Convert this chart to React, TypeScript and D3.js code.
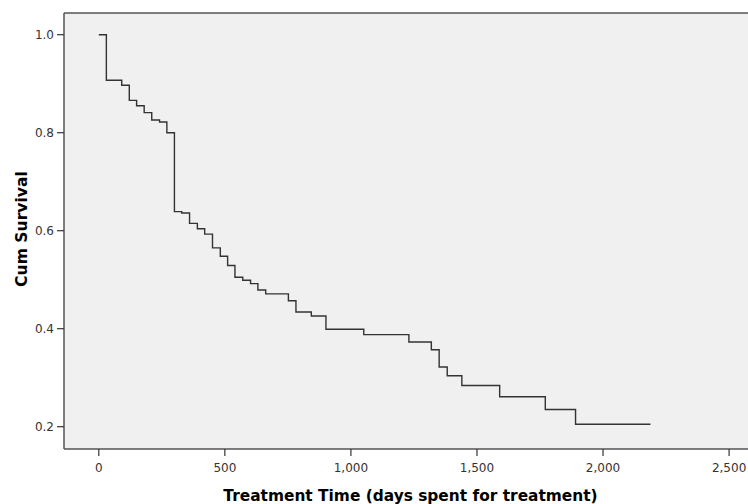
import React from "react";
import * as d3 from "d3";

// Kaplan-Meier step points (day of event, survival after event)
const eventDays = [0, 30, 91, 121, 150, 180, 210, 241, 270, 300, 329, 360, 391, 420, 451, 482, 511, 540, 571, 602, 631, 662, 752, 782, 843, 901, 1051, 1230, 1319, 1350, 1382, 1440, 1590, 1771, 1891, 2188];
const survival = [1.0, 0.907, 0.897, 0.866, 0.855, 0.841, 0.826, 0.822, 0.8, 0.639, 0.636, 0.615, 0.604, 0.593, 0.565, 0.548, 0.529, 0.505, 0.499, 0.492, 0.479, 0.471, 0.457, 0.434, 0.426, 0.399, 0.388, 0.373, 0.357, 0.322, 0.304, 0.284, 0.261, 0.235, 0.205, 0.205];

const xTicks = [0, 500, 1000, 1500, 2000, 2500];
const yTicks = [0.2, 0.4, 0.6, 0.8, 1.0];

const xTitle = "Treatment Time (days spent for treatment)";
const yTitle = "Cum Survival";

export default function App() {
  const width = 748;
  const height = 504;
  const margin = { top: 13, right: 0, bottom: 55, left: 64 };

  const x = d3.scaleLinear().domain([-138, 2575]).range([margin.left, width - margin.right]);
  const y = d3.scaleLinear().domain([0.1545, 1.0443]).range([height - margin.bottom, margin.top]);

  const pts = eventDays.map((d, i) => [d, survival[i]] as [number, number]);
  const path = d3
    .line<[number, number]>()
    .x((d) => x(d[0]))
    .y((d) => y(d[1]))
    .curve(d3.curveStepAfter)(pts);

  const fmt = d3.format(",");
  const bottom = height - margin.bottom;
  const font = "'DejaVu Sans', Verdana, sans-serif";

  return (
    <svg
      width={width}
      height={height}
      style={{ position: "absolute", left: 0, top: 0, background: "#fff" }}
      fontFamily={font}
    >
      <rect x={margin.left} y={margin.top} width={width - margin.left} height={bottom - margin.top} fill="#f0f0f0" />
      <path d={path || ""} fill="none" stroke="#333" strokeWidth={1.4} />
      {/* frame */}
      <line x1={margin.left} x2={width} y1={margin.top} y2={margin.top} stroke="#555" strokeWidth={1.5} />
      <line x1={margin.left} x2={margin.left} y1={margin.top} y2={bottom} stroke="#555" strokeWidth={1.5} />
      <line x1={margin.left} x2={width} y1={bottom} y2={bottom} stroke="#555" strokeWidth={1.5} />
      {yTicks.map((t) => (
        <g key={t}>
          <line x1={margin.left - 7} x2={margin.left} y1={y(t)} y2={y(t)} stroke="#333" strokeWidth={1.2} />
          <text x={margin.left - 10} y={y(t)} dy="0.36em" textAnchor="end" fontSize={12} fill="#333">
            {t.toFixed(1)}
          </text>
        </g>
      ))}
      {xTicks.map((t) => (
        <g key={t}>
          <line x1={x(t)} x2={x(t)} y1={bottom} y2={bottom + 7} stroke="#333" strokeWidth={1.2} />
          <text x={x(t)} y={bottom + 22.5} textAnchor="middle" fontSize={12} fill="#333">
            {fmt(t)}
          </text>
        </g>
      ))}
      <text x={410.5} y={501} textAnchor="middle" fontSize={15.4} fontWeight="bold" fill="#000">
        {xTitle}
      </text>
      <text
        transform={`translate(27,229) rotate(-90)`}
        textAnchor="middle"
        fontSize={15.6}
        fontWeight="bold"
        fill="#000"
      >
        {yTitle}
      </text>
    </svg>
  );
}
